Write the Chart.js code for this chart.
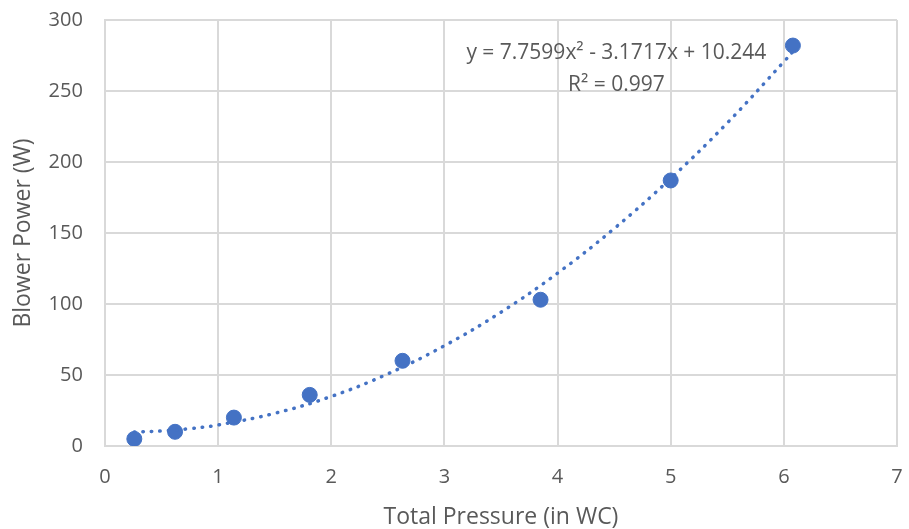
<!DOCTYPE html>
<html>
<head>
  <title>Blower Power vs Total Pressure</title>
  <script src="https://cdn.jsdelivr.net/npm/chart.js"></script>
  <style>
    body { margin: 0; background: #fff; }
    #wrap { width: 909px; height: 529px; }
  </style>
</head>
<body>
<div id="wrap"><canvas id="powerChart"></canvas></div>

<script>
  // measured points
  const pressure = [0.26, 0.62, 1.14, 1.81, 2.63, 3.85, 5.0, 6.08];
  const power = [5, 10, 20, 36, 60, 103, 187, 282];

  // trendline
  const trendX = [0.26, 0.5, 0.75, 1, 1.5, 2, 2.5, 3, 3.5, 4, 4.5, 5, 5.5, 6, 6.08];
  const trendY = [9.9, 10.6, 12.2, 14.8, 23.0, 34.9, 50.8, 70.6, 94.2, 121.7, 153.1, 188.4, 227.5, 270.6, 277.8];

  const equationLines = ['y = 7.7599x\u00b2 - 3.1717x + 10.244', 'R\u00b2 = 0.997'];

  const blue = '#4472C4';
  const grey = '#595959';
  const gridColor = '#d9d9d9';
  const fontFamily = '"Open Sans", "Liberation Sans", sans-serif';

  const equationPlugin = {
    id: 'equation',
    afterDatasetsDraw(chart) {
      const ctx = chart.ctx;
      const xs = chart.scales.x;
      const ys = chart.scales.y;
      ctx.save();
      ctx.fillStyle = grey;
      ctx.font = '21px ' + fontFamily;
      ctx.textAlign = 'center';
      ctx.textBaseline = 'middle';
      ctx.fillText(equationLines[0], xs.getPixelForValue(4.52), ys.getPixelForValue(276.5));
      ctx.fillText(equationLines[1], xs.getPixelForValue(4.52), ys.getPixelForValue(254));
      ctx.restore();
    }
  };

  const ctx = document.getElementById('powerChart').getContext('2d');
  new Chart(ctx, {
    type: 'scatter',
    data: {
      datasets: [{
        label: 'Trend',
        data: trendX.map((x, i) => ({ x: x, y: trendY[i] })),
        showLine: true,
        borderColor: blue,
        borderWidth: 3.5,
        borderDash: [0.5, 8],
        borderCapStyle: 'round',
        tension: 0.4,
        pointRadius: 0
      }, {
        label: 'Blower Power',
        data: pressure.map((x, i) => ({ x: x, y: power[i] })),
        backgroundColor: blue,
        borderColor: blue,
        pointRadius: 7.5,
        pointHoverRadius: 7.5
      }]
    },
    options: {
      responsive: true,
      maintainAspectRatio: false,
      animation: false,
      layout: { padding: { left: 5, right: 12, top: 20, bottom: 0 } },
      plugins: {
        legend: { display: false },
        tooltip: { enabled: false }
      },
      scales: {
        x: {
          type: 'linear',
          min: 0,
          max: 7,
          ticks: { stepSize: 1, color: grey, font: { family: fontFamily, size: 20 }, padding: 0 },
          grid: { color: gridColor, lineWidth: 2, drawTicks: true, tickLength: 19, tickColor: 'rgba(0,0,0,0)' },
          border: { color: gridColor, width: 2 },
          title: { display: true, text: 'Total Pressure (in WC)', color: grey, font: { family: fontFamily, size: 23, lineHeight: 1.0 }, padding: { top: 17, bottom: 0 } }
        },
        y: {
          min: 0,
          max: 300,
          ticks: { stepSize: 50, color: grey, font: { family: fontFamily, size: 20 }, padding: 0 },
          grid: { color: gridColor, lineWidth: 2, drawTicks: true, tickLength: 22, tickColor: 'rgba(0,0,0,0)' },
          border: { color: gridColor, width: 2 },
          title: { display: true, text: 'Blower Power (W)', color: grey, font: { family: fontFamily, size: 23 }, padding: { top: 5, bottom: 11 } }
        }
      }
    },
    plugins: [equationPlugin]
  });
</script>
</body>
</html>
